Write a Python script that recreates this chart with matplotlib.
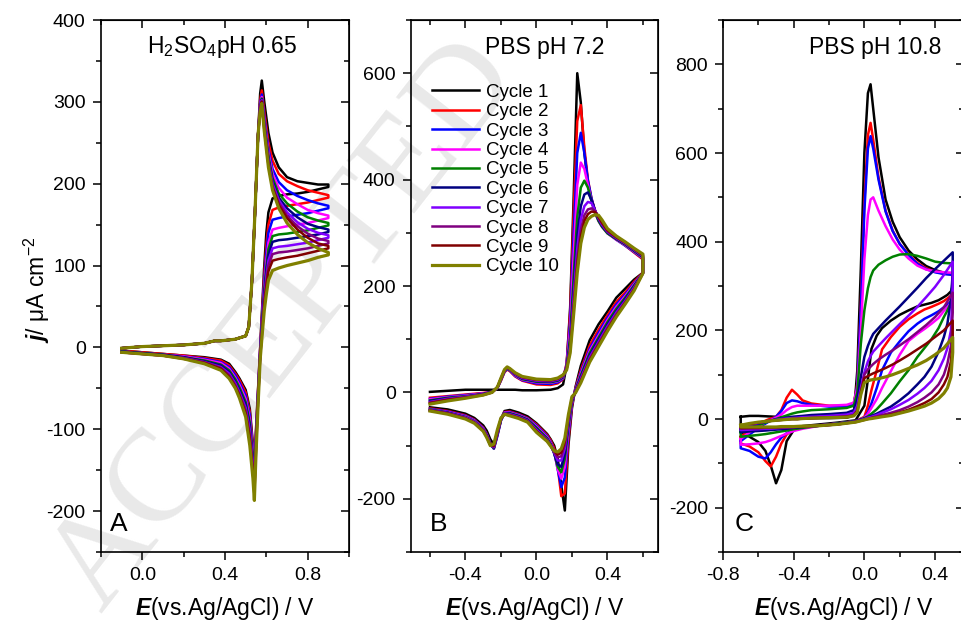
import numpy as np
import matplotlib.pyplot as plt
from matplotlib.ticker import MultipleLocator

plt.rcParams['font.family'] = ['Liberation Sans', 'DejaVu Sans']
plt.rcParams['axes.unicode_minus'] = False
plt.rcParams['mathtext.fontset'] = 'custom'
plt.rcParams['mathtext.rm'] = 'Liberation Sans'
plt.rcParams['mathtext.it'] = 'Liberation Sans:italic'
plt.rcParams['mathtext.bf'] = 'Liberation Sans:bold'
plt.rcParams['mathtext.bfit'] = 'Liberation Sans:italic:bold'

labels = ['Cycle 1', 'Cycle 2', 'Cycle 3', 'Cycle 4', 'Cycle 5',
          'Cycle 6', 'Cycle 7', 'Cycle 8', 'Cycle 9', 'Cycle 10']
colors = ['#000000', '#ff0000', '#0000ff', '#ff00ff', '#008000',
          '#000080', '#8000ff', '#800080', '#800000', '#808000']

# ---- panel A : H2SO4 pH 0.65 ----
a_fwd_E = [-0.10, 0.00, 0.10, 0.20, 0.30, 0.35, 0.38, 0.45, 0.50, 0.515, 0.53, 0.545,
           0.56, 0.57, 0.578, 0.59, 0.61, 0.63, 0.66, 0.70, 0.75, 0.80, 0.85, 0.90]
a_fwd_j = [
    [-1, 1, 2, 3, 5, 8, 8, 10, 14, 25, 80, 165, 260, 310, 326, 300, 262, 238, 220, 208, 203, 201, 199, 199],
    [-1, 1, 2, 3, 5, 8, 8, 10, 14, 25, 80, 165, 260, 302, 314, 288, 250, 228, 212, 203, 197, 192, 189, 186],
    [-1, 1, 2, 3, 5, 8, 8, 10, 14, 25, 80, 165, 260, 298, 309, 282, 242, 218, 202, 192, 185, 180, 176, 173],
    [-1, 1, 2, 3, 5, 8, 8, 10, 14, 25, 80, 165, 260, 296, 306, 278, 238, 212, 195, 183, 175, 168, 164, 161],
    [-1, 1, 2, 3, 5, 8, 8, 10, 14, 25, 80, 165, 260, 294, 304, 275, 234, 207, 188, 176, 166, 159, 155, 152],
    [-1, 1, 2, 3, 5, 8, 8, 10, 14, 25, 80, 165, 260, 293, 303, 272, 230, 203, 183, 170, 159, 151, 147, 144],
    [-1, 1, 2, 3, 5, 8, 8, 10, 14, 25, 80, 165, 260, 292, 302, 270, 228, 200, 180, 165, 153, 145, 140, 137],
    [-1, 1, 2, 3, 5, 8, 8, 10, 14, 25, 80, 165, 260, 291, 301, 268, 225, 197, 177, 161, 148, 139, 133, 130],
    [-1, 1, 2, 3, 5, 8, 8, 10, 14, 25, 80, 165, 260, 290, 300, 266, 223, 195, 174, 158, 144, 134, 127, 124],
    [-1, 1, 2, 3, 5, 8, 8, 10, 14, 25, 80, 165, 260, 288, 298, 264, 220, 192, 170, 152, 138, 128, 121, 116],
]
a_rev_E = [0.90, 0.85, 0.80, 0.75, 0.70, 0.66, 0.63, 0.61, 0.60, 0.59, 0.58, 0.57, 0.56, 0.55,
           0.542, 0.535, 0.52, 0.50, 0.47, 0.45, 0.42, 0.38, 0.30, 0.20, 0.10, 0.00, -0.10]
a_rev_j = [
    [196, 193, 190, 188, 187, 185, 182, 165, 140, 100, 50, 0, -50, -100, -150, -118, -75, -52, -38, -30, -20, -15, -12, -10, -8, -6, -4],
    [183, 180, 177, 175, 173, 171, 168, 150, 125, 90, 45, -2, -52, -104, -152, -121, -79, -55, -40, -32, -22, -16, -13, -10, -8, -6, -4],
    [170, 167, 164, 162, 160, 158, 156, 140, 115, 82, 40, -4, -54, -107, -156, -125, -83, -59, -43, -34, -24, -18, -14, -11, -9, -7, -5],
    [158, 155, 152, 150, 148, 146, 144, 128, 105, 75, 36, -6, -56, -110, -160, -129, -88, -63, -46, -37, -26, -19, -15, -11, -9, -7, -5],
    [149, 146, 143, 141, 139, 138, 136, 120, 98, 70, 33, -8, -58, -113, -164, -133, -92, -67, -49, -39, -28, -21, -16, -12, -9, -7, -5],
    [141, 138, 136, 134, 132, 131, 129, 113, 92, 65, 30, -9, -60, -116, -168, -138, -96, -70, -52, -42, -30, -22, -17, -12, -9, -7, -5],
    [134, 131, 128, 126, 124, 123, 121, 106, 86, 60, 27, -10, -62, -119, -172, -142, -101, -74, -55, -44, -32, -24, -18, -13, -10, -8, -6],
    [127, 124, 121, 119, 117, 116, 114, 100, 80, 56, 24, -11, -64, -122, -176, -147, -106, -77, -57, -46, -34, -25, -18, -13, -10, -8, -6],
    [121, 118, 115, 112, 110, 108, 106, 93, 74, 52, 21, -13, -66, -126, -180, -152, -111, -81, -59, -48, -36, -26, -19, -14, -10, -8, -6],
    [113, 110, 106, 103, 100, 97, 94, 82, 65, 45, 16, -15, -70, -130, -187, -160, -120, -85, -62, -50, -38, -28, -20, -14, -10, -8, -6],
]

# ---- panel B : PBS pH 7.2 ----
b_fwd_E = [-0.60, -0.50, -0.40, -0.30, -0.25, -0.22, -0.20, -0.18, -0.165, -0.15, -0.12, -0.08,
           0.00, 0.08, 0.12, 0.15, 0.17, 0.19, 0.21, 0.23, 0.25, 0.27, 0.29, 0.31, 0.33, 0.35,
           0.37, 0.40, 0.45, 0.50, 0.55, 0.60]
b_fwd_j = [
    [1, 3, 5, 5, 5, 5, 5, 5, 5, 5, 5, 4, 4, 5, 8, 15, 50, 160, 370, 600, 545, 450, 395, 362, 342, 328, 318, 305, 292, 280, 266, 252],
    [-10, -7, -4, -1, 1, 8, 22, 38, 43, 40, 30, 22, 15, 14, 17, 25, 55, 150, 340, 510, 540, 460, 400, 365, 342, 326, 315, 302, 288, 276, 263, 250],
    [-12, -8, -5, -2, 1, 8, 23, 39, 44, 41, 31, 23, 17, 16, 19, 26, 52, 135, 300, 450, 488, 450, 398, 365, 340, 324, 313, 300, 287, 276, 264, 252],
    [-13, -9, -6, -2, 1, 9, 24, 40, 45, 42, 32, 24, 19, 18, 21, 27, 50, 120, 260, 390, 432, 420, 390, 360, 338, 322, 311, 299, 287, 277, 265, 253],
    [-15, -10, -7, -3, 1, 9, 24, 40, 45, 42, 33, 25, 20, 19, 22, 28, 48, 105, 220, 330, 385, 398, 385, 360, 338, 322, 311, 299, 288, 278, 266, 254],
    [-16, -11, -8, -3, 1, 9, 25, 41, 46, 43, 34, 26, 21, 20, 23, 29, 46, 95, 195, 295, 350, 372, 376, 362, 342, 325, 313, 301, 289, 279, 267, 255],
    [-18, -12, -8, -4, 0, 9, 25, 41, 46, 43, 34, 27, 22, 21, 24, 30, 45, 88, 180, 270, 325, 350, 358, 356, 342, 327, 315, 302, 290, 280, 268, 256],
    [-19, -13, -9, -4, 0, 10, 26, 42, 47, 44, 35, 28, 23, 22, 25, 31, 44, 82, 168, 252, 305, 333, 344, 346, 341, 328, 317, 303, 291, 281, 269, 257],
    [-20, -14, -10, -5, 0, 10, 26, 42, 47, 44, 36, 29, 24, 23, 26, 32, 43, 78, 158, 238, 292, 322, 335, 340, 339, 330, 319, 305, 292, 282, 270, 258],
    [-22, -16, -11, -5, 0, 10, 27, 43, 48, 45, 37, 30, 25, 24, 27, 33, 42, 74, 148, 225, 280, 310, 325, 331, 334, 333, 324, 308, 294, 283, 271, 260],
]
b_rev_E = [0.60, 0.55, 0.50, 0.45, 0.40, 0.35, 0.30, 0.25, 0.22, 0.20, 0.18, 0.16, 0.14, 0.12,
           0.10, 0.08, 0.06, 0.00, -0.05, -0.10, -0.15, -0.18, -0.20, -0.22, -0.24, -0.26,
           -0.28, -0.30, -0.35, -0.40, -0.50, -0.60]
b_rev_j = [
    [225, 212, 195, 178, 152, 128, 98, 50, 10, -30, -100, -222, -175, -125, -100, -88, -78, -58, -45, -38, -33, -35, -50, -75, -98, -88, -72, -62, -48, -40, -32, -28],
    [225, 208, 188, 170, 145, 118, 88, 42, 8, -25, -90, -190, -195, -140, -105, -90, -80, -60, -48, -41, -36, -37, -52, -80, -105, -95, -78, -66, -51, -43, -35, -30],
    [224, 205, 184, 165, 140, 112, 82, 38, 6, -22, -80, -160, -178, -145, -110, -93, -82, -62, -49, -42, -37, -38, -53, -82, -106, -96, -79, -67, -52, -44, -36, -31],
    [224, 203, 181, 161, 136, 107, 78, 35, 5, -20, -72, -140, -162, -145, -112, -95, -84, -64, -50, -43, -38, -38, -52, -80, -105, -97, -80, -68, -53, -45, -37, -32],
    [224, 201, 178, 157, 132, 103, 74, 32, 4, -18, -65, -125, -150, -140, -114, -97, -86, -66, -51, -44, -39, -39, -52, -79, -105, -97, -81, -69, -54, -46, -38, -32],
    [224, 199, 175, 153, 128, 99, 70, 29, 3, -16, -60, -115, -140, -135, -115, -98, -88, -68, -52, -45, -40, -39, -51, -78, -104, -98, -81, -70, -55, -47, -38, -33],
    [224, 197, 172, 150, 124, 95, 66, 26, 2, -14, -55, -105, -128, -128, -113, -99, -89, -70, -53, -46, -41, -40, -50, -76, -103, -98, -82, -70, -55, -47, -39, -33],
    [224, 195, 170, 147, 121, 92, 63, 23, 1, -12, -50, -98, -120, -122, -112, -100, -90, -72, -54, -47, -42, -40, -50, -75, -102, -99, -83, -71, -56, -48, -39, -34],
    [224, 193, 168, 144, 118, 89, 60, 21, 0, -10, -46, -92, -113, -117, -110, -100, -91, -73, -55, -48, -43, -41, -49, -73, -100, -99, -84, -72, -57, -49, -40, -34],
    [224, 191, 166, 142, 115, 86, 57, 18, -1, -8, -42, -86, -106, -112, -110, -101, -92, -75, -56, -49, -44, -41, -48, -70, -97, -100, -85, -73, -58, -50, -41, -35],
]

# ---- panel C : PBS pH 10.8 ----
c_fwd_E = [-0.70, -0.65, -0.60, -0.55, -0.50, -0.47, -0.44, -0.41, -0.38, -0.35, -0.30, -0.20,
           -0.10, -0.06, -0.04, -0.02, 0.00, 0.02, 0.035, 0.05, 0.08, 0.12, 0.16, 0.20, 0.25,
           0.30, 0.35, 0.40, 0.45, 0.50]
c_fwd_j = [
    [5, 7, 7, 6, 5, 4, 3, 2, 2, 2, 2, 2, 3, 8, 110, 340, 600, 735, 755, 700, 590, 495, 445, 410, 380, 360, 345, 336, 330, 326],
    [-40, -25, -12, -2, 5, 20, 48, 66, 55, 42, 35, 30, 30, 35, 80, 260, 490, 640, 668, 630, 545, 470, 425, 395, 372, 352, 340, 332, 328, 326],
    [-50, -35, -20, -8, 5, 18, 36, 42, 40, 36, 32, 28, 28, 33, 75, 250, 470, 610, 638, 610, 540, 468, 424, 395, 370, 350, 338, 331, 327, 325],
    [-45, -30, -16, -6, 3, 10, 20, 27, 30, 30, 30, 30, 32, 37, 70, 200, 360, 460, 495, 500, 470, 435, 405, 382, 362, 346, 337, 333, 331, 330],
    [-30, -22, -14, -7, 0, 4, 8, 12, 15, 17, 20, 22, 25, 30, 60, 170, 245, 295, 320, 335, 348, 358, 366, 371, 372, 368, 362, 355, 352, 351],
    [-22, -16, -10, -5, -1, 1, 3, 5, 6, 7, 9, 11, 14, 20, 45, 95, 140, 165, 180, 192, 205, 222, 238, 254, 275, 296, 318, 338, 357, 376],
    [-18, -13, -9, -5, -2, 0, 1, 2, 3, 4, 5, 7, 10, 14, 30, 70, 105, 130, 142, 152, 165, 182, 198, 214, 233, 253, 275, 298, 325, 355],
    [-16, -12, -8, -5, -3, -2, -1, 0, 0, 1, 2, 4, 6, 9, 20, 60, 100, 112, 118, 124, 134, 145, 155, 166, 180, 196, 212, 230, 252, 285],
    [-15, -11, -8, -5, -3, -2, -1, 0, 0, 1, 2, 3, 5, 8, 18, 60, 92, 97, 100, 103, 108, 115, 123, 132, 144, 157, 170, 185, 200, 222],
    [-14, -10, -7, -5, -3, -2, -1, 0, 0, 1, 2, 3, 4, 7, 15, 55, 82, 86, 88, 89, 91, 95, 100, 106, 114, 122, 132, 145, 160, 184],
]
c_rev_E = [0.50, 0.49, 0.47, 0.45, 0.42, 0.38, 0.34, 0.30, 0.25, 0.20, 0.15, 0.10, 0.07, 0.04,
           0.02, 0.00, -0.05, -0.15, -0.25, -0.35, -0.40, -0.44, -0.47, -0.50, -0.53, -0.56,
           -0.60, -0.65, -0.70]
c_rev_j = [
    [300, 288, 280, 275, 268, 262, 258, 254, 245, 235, 222, 205, 188, 158, 90, 30, -3, -8, -12, -16, -25, -50, -115, -145, -105, -72, -52, -40, -30],
    [285, 278, 272, 266, 260, 253, 247, 238, 225, 208, 185, 157, 110, 65, 30, 5, -5, -10, -14, -18, -22, -35, -55, -85, -107, -95, -75, -62, -55],
    [275, 265, 258, 252, 243, 234, 226, 215, 198, 175, 150, 110, 70, 35, 15, 3, -5, -10, -14, -20, -25, -32, -42, -57, -75, -89, -85, -72, -66],
    [280, 262, 252, 244, 228, 215, 203, 192, 176, 145, 108, 70, 45, 25, 12, 3, -5, -10, -15, -22, -27, -33, -38, -43, -48, -52, -55, -57, -58],
    [320, 262, 245, 230, 205, 180, 160, 140, 110, 85, 58, 35, 22, 12, 6, 2, -5, -10, -15, -20, -23, -26, -28, -30, -32, -34, -36, -38, -40],
    [330, 270, 215, 185, 152, 118, 95, 78, 58, 42, 28, 18, 12, 7, 4, 1, -5, -11, -15, -18, -20, -22, -23, -24, -25, -26, -27, -28, -30],
    [300, 200, 160, 136, 110, 86, 70, 57, 43, 32, 22, 14, 9, 5, 3, 0, -6, -12, -15, -17, -18, -19, -20, -21, -22, -22, -23, -24, -25],
    [240, 165, 125, 100, 78, 60, 48, 38, 28, 20, 14, 9, 6, 3, 1, -1, -6, -12, -15, -17, -18, -18, -19, -19, -20, -20, -21, -21, -22],
    [180, 130, 95, 78, 60, 45, 36, 29, 21, 15, 10, 6, 4, 2, 0, -2, -7, -12, -15, -17, -18, -18, -18, -19, -19, -19, -20, -20, -20],
    [150, 95, 70, 58, 46, 36, 29, 24, 18, 13, 8, 5, 3, 1, 0, -2, -7, -12, -15, -16, -17, -17, -17, -18, -18, -18, -18, -18, -18],
]

fig = plt.figure(figsize=(9.62, 6.29), dpi=100)

# watermark behind everything
fig.text(0.105, 0.025, 'ACCEPTED', rotation=52, rotation_mode='anchor',
         ha='left', va='baseline', fontsize=95, family='Liberation Serif',
         color='#e9e9e9', zorder=-5)

axA = fig.add_axes([0.105, 0.1224, 0.2578, 0.8458])
axB = fig.add_axes([0.4272, 0.1224, 0.2568, 0.8458])
axC = fig.add_axes([0.7516, 0.1224, 0.2505, 0.8458])

panels = [
    (axA, a_fwd_E, a_fwd_j, a_rev_E, a_rev_j, False),
    (axB, b_fwd_E, b_fwd_j, b_rev_E, b_rev_j, False),
    (axC, c_fwd_E, c_fwd_j, c_rev_E, c_rev_j, True),
]
for ax, fE, fj, rE, rj, close in panels:
    for i in range(10):
        x = list(fE) + list(rE)
        y = list(fj[i]) + list(rj[i])
        if close:
            x = x + [fE[0]]
            y = y + [fj[i][0]]
        lw = 2.3 if i == 9 else 1.8
        ax.plot(x, y, color=colors[i], lw=lw, label=labels[i], solid_joinstyle='round')

axA.set_xlim(-0.2, 1.0)
axA.set_ylim(-250, 400)
axA.xaxis.set_major_locator(MultipleLocator(0.4))
axA.xaxis.set_minor_locator(MultipleLocator(0.2))
axA.yaxis.set_major_locator(MultipleLocator(100))
axA.yaxis.set_minor_locator(MultipleLocator(50))

axB.set_xlim(-0.707, 0.685)
axB.set_ylim(-300, 700)
axB.xaxis.set_major_locator(MultipleLocator(0.4))
axB.xaxis.set_minor_locator(MultipleLocator(0.2))
axB.yaxis.set_major_locator(MultipleLocator(200))
axB.yaxis.set_minor_locator(MultipleLocator(100))

axC.set_xlim(-0.8, 0.564)
axC.set_ylim(-300, 900)
axC.xaxis.set_major_locator(MultipleLocator(0.4))
axC.xaxis.set_minor_locator(MultipleLocator(0.2))
axC.yaxis.set_major_locator(MultipleLocator(200))
axC.yaxis.set_minor_locator(MultipleLocator(100))

for ax in (axA, axB, axC):
    ax.patch.set_alpha(0)
    ax.xaxis.set_major_formatter(plt.FormatStrFormatter('%.1f'))
    ax.tick_params(which='both', direction='out', width=1.1, labelsize=14, pad=5,
                   top=False, right=False)
    ax.tick_params(which='major', length=6)
    ax.tick_params(which='minor', length=3.5)
    for s in ax.spines.values():
        s.set_linewidth(1.2)
    top = ax.secondary_xaxis('top')
    top.xaxis.set_major_locator(ax.xaxis.get_major_locator())
    top.xaxis.set_minor_locator(ax.xaxis.get_minor_locator())
    top.tick_params(which='both', direction='in', width=1.1, labeltop=False)
    top.tick_params(which='major', length=6)
    top.tick_params(which='minor', length=3.5)
    right = ax.secondary_yaxis('right')
    right.yaxis.set_major_locator(ax.yaxis.get_major_locator())
    right.yaxis.set_minor_locator(ax.yaxis.get_minor_locator())
    right.tick_params(which='both', direction='in', width=1.1, labelright=False)
    right.tick_params(which='major', length=6)
    right.tick_params(which='minor', length=3.5)
    ax.set_xlabel(r'$\mathbfit{E}$(vs.Ag/AgCl) / V', fontsize=16.5, va='center')
    ax.xaxis.set_label_coords(0.5, -0.106)

axA.set_ylabel(r'$\mathbfit{j}$/ μA cm$^{-2}$', fontsize=16.5, va='center')
axA.yaxis.set_label_coords(-0.258, 0.492)

axA.text(0.49, 0.949, r'H$_2$SO$_4$pH 0.65', transform=axA.transAxes,
         ha='center', va='center', fontsize=16.5)
axB.text(0.543, 0.949, 'PBS pH 7.2', transform=axB.transAxes,
         ha='center', va='center', fontsize=16.5)
axC.text(0.63, 0.949, 'PBS pH 10.8', transform=axC.transAxes,
         ha='center', va='center', fontsize=16.5)

axA.text(0.036, 0.053, 'A', transform=axA.transAxes, ha='left', va='center', fontsize=19)
axB.text(0.077, 0.053, 'B', transform=axB.transAxes, ha='left', va='center', fontsize=19)
axC.text(0.05, 0.053, 'C', transform=axC.transAxes, ha='left', va='center', fontsize=19)

axB.legend(loc='upper left', bbox_to_anchor=(0.085, 0.88), frameon=False, fontsize=13.5,
           handlelength=2.5, handletextpad=0.4, labelspacing=0.12, borderpad=0, borderaxespad=0)

fig.savefig('out.png', dpi=100)
